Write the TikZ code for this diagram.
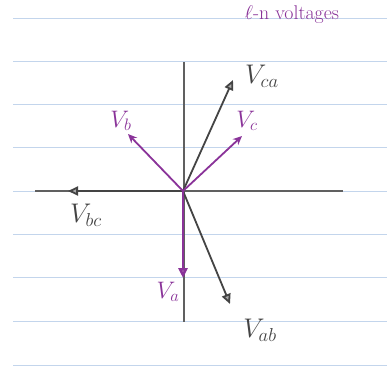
\documentclass[tikz,border=0pt]{standalone}
\usetikzlibrary{arrows.meta}
\definecolor{lineaPapel}{HTML}{C3D5EC}
\definecolor{grisLapiz}{HTML}{444444}
\definecolor{moradoTinta}{HTML}{8A3399}
\tikzset{
  renglon/.style={lineaPapel, line width=0.9pt},
  ejes/.style={grisLapiz!85, line width=1.8pt},
  vecLinea/.style={grisLapiz, line width=1.8pt,
    -{Triangle[length=10pt, width=9pt, fill=grisLapiz!45]}},
  vecFase/.style={moradoTinta, line width=1.8pt,
    -{Stealth[length=9pt, width=8pt]}},
  vecFaseA/.style={moradoTinta, line width=2.6pt,
    -{Triangle[length=10pt, width=9pt, fill=moradoTinta!25]}},
  etiquetaGris/.style={text=grisLapiz, font=\huge, scale=1.3},
  etiquetaMorada/.style={text=moradoTinta, font=\huge, scale=1.15},
}
\begin{document}
\begin{tikzpicture}[x=1pt, y=-1pt]
  \useasboundingbox[fill=white] (0,0) rectangle (387,369);
  % renglones del papel
  \foreach \yy in {18,61,104,147,191,234,277,321,365}
    \draw[renglon] (13,\yy) -- (387,\yy);

  % ejes
  \coordinate (O) at (183,191);
  \coordinate (ejeIzq) at (35,191);
  \coordinate (ejeDer) at (343,191);
  \coordinate (ejeArr) at (184,62);
  \coordinate (ejeAba) at (184,322);
  \draw[ejes] (ejeIzq) -- (ejeDer);
  \draw[ejes] (ejeArr) -- (ejeAba);

  % puntas de los fasores
  \coordinate (pCA) at (233,80);
  \coordinate (pBC) at (68,191);
  \coordinate (pAB) at (230,304);
  \coordinate (pA) at (183,278);
  \coordinate (pB) at (128,134);
  \coordinate (pC) at (242,136);

  % tensiones de linea
  \draw[vecLinea] (O) -- (pCA);
  \draw[vecLinea] (O) -- (pBC);
  \draw[vecLinea] (O) -- (pAB);

  % tensiones de fase
  \draw[vecFaseA] (O) -- (pA);
  \draw[vecFase] (O) -- (pB);
  \draw[vecFase] (O) -- (pC);

  % etiquetas
  \node[etiquetaMorada, font=\LARGE, scale=1] (titulo) at (292,15) {$\ell$-n voltages};
  \node[etiquetaGris] (lCA) at (262,76) {$V_{ca}$};
  \node[etiquetaGris] (lBC) at (86,215) {$V_{bc}$};
  \node[etiquetaGris] (lAB) at (260,330) {$V_{ab}$};
  \node[etiquetaMorada] (lA) at (168,292) {$V_{a}$};
  \node[etiquetaMorada] (lB) at (121,121) {$V_{b}$};
  \node[etiquetaMorada] (lC) at (247,121) {$V_{c}$};
\end{tikzpicture}
\end{document}
